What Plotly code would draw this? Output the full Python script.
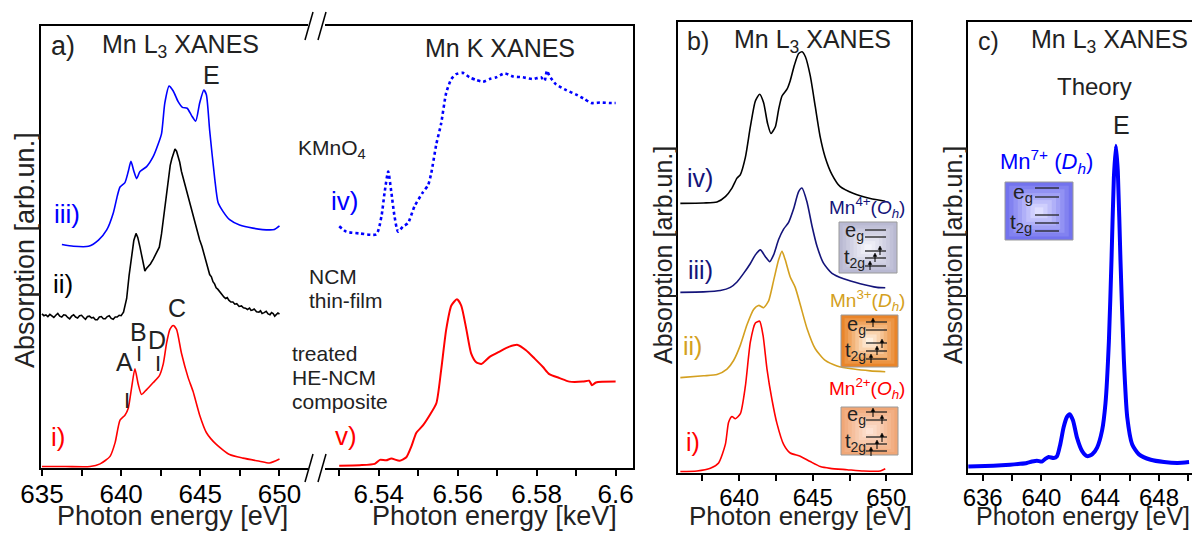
import plotly.graph_objects as go

W, H = 1192, 535

# ---------------- data ----------------
# (a) Mn L3 XANES  [eV]
a_E_iii = [636.26, 636.99, 637.94, 638.57, 639.09, 639.51, 639.76, 639.93, 640.24, 640.45, 640.62, 640.81,
           640.98, 641.19, 641.61, 642.03, 642.34, 642.55, 642.76, 643.03, 643.29, 643.60, 643.87, 644.17,
           644.44, 644.71, 644.96, 645.22, 645.38, 645.59, 645.91, 646.12, 646.43, 646.85, 647.48, 648.32,
           649.37, 649.68, 650.00]
a_I_iii = [5.06, 5.02, 5.02, 5.16, 5.39, 5.78, 6.16, 6.36, 6.46, 6.71, 6.94, 6.71,
           6.55, 6.71, 6.82, 7.05, 7.33, 7.56, 8.26, 8.64, 8.53, 8.29, 8.16, 8.14,
           7.98, 7.85, 8.26, 8.55, 8.45, 7.64, 6.55, 6.01, 5.81, 5.62, 5.50, 5.43,
           5.39, 5.40, 5.48]

a_E_ii = [635.0, 635.125, 635.25, 635.375, 635.5, 635.625, 635.75, 635.875, 636.0, 636.125, 636.25, 636.375,
          636.5, 636.625, 636.75, 636.875, 637.0, 637.125, 637.25, 637.375, 637.5, 637.625, 637.75, 637.875,
          638.0, 638.125, 638.25, 638.375, 638.5, 638.625, 638.75, 638.875, 639.0, 639.125, 639.25, 639.375,
          639.5, 639.625, 639.75, 639.875, 640.0, 640.15, 640.35, 640.5,
          640.66, 640.8, 640.94, 641.05, 641.19, 641.35, 641.5, 641.6, 641.71, 641.85, 642.03, 642.2,
          642.41, 642.55, 642.66, 642.8, 642.97, 643.1, 643.2, 643.29, 643.4, 643.5, 643.6, 643.7,
          643.81, 644.0, 644.15, 644.34, 644.5, 644.7, 644.96, 645.1, 645.2, 645.4, 645.59, 645.7, 645.8,
          645.9, 646.0, 646.1, 646.22, 646.3, 646.4, 646.5, 646.6, 646.7, 646.8, 646.93, 647.06, 647.18,
          647.3, 647.45, 647.6, 647.72, 647.85, 647.98, 648.11, 648.2, 648.3, 648.4, 648.55, 648.7, 648.8,
          648.9, 649.03, 649.16, 649.28, 649.4, 649.5, 649.6, 649.7, 649.8, 649.9, 650.0]
a_I_ii = [3.49, 3.45, 3.47, 3.43, 3.48, 3.44, 3.41, 3.46, 3.50, 3.44, 3.42, 3.47,
          3.46, 3.41, 3.38, 3.44, 3.47, 3.42, 3.40, 3.45, 3.46, 3.41, 3.37, 3.43,
          3.44, 3.40, 3.41, 3.36, 3.36, 3.42, 3.43, 3.38, 3.38, 3.43, 3.45, 3.39,
          3.37, 3.42, 3.42, 3.46, 3.45, 3.53, 3.84, 4.35,
          4.84, 5.15, 5.31, 5.22, 5.00, 4.70, 4.46, 4.52, 4.57, 4.62, 4.73, 4.85,
          5.00, 5.30, 5.62, 6.05, 6.55, 6.85, 7.00, 7.09, 7.22, 7.17, 7.05, 6.92,
          6.71, 6.45, 6.30, 6.01, 5.82, 5.50, 5.16, 5.02, 4.88, 4.62, 4.38, 4.33, 4.22,
          4.17, 4.08, 4.05, 3.99, 3.97, 3.92, 3.87, 3.84, 3.86, 3.80, 3.76, 3.76, 3.71,
          3.72, 3.66, 3.67, 3.63, 3.62, 3.59, 3.62, 3.57, 3.58, 3.60, 3.54, 3.53, 3.56,
          3.50, 3.52, 3.55, 3.49, 3.47, 3.52, 3.50, 3.44, 3.48, 3.51, 3.49]

a_E_i = [635.00, 636.50, 638.04, 638.67, 639.30, 639.62, 639.93, 640.24, 640.45, 640.66, 640.87, 641.08,
         641.29, 641.61, 642.03, 642.41, 642.66, 642.87, 643.08, 643.29, 643.50, 643.81, 644.23, 644.54,
         644.96, 645.38, 646.01, 646.85, 647.69, 648.74, 649.37, 650.00]
a_I_i = [0.04, 0.04, 0.04, 0.10, 0.27, 0.58, 1.09, 1.20, 1.36, 1.82, 2.25, 1.90,
         1.67, 1.78, 1.94, 2.09, 2.36, 2.83, 3.14, 3.23, 3.14, 2.60, 2.05, 1.74,
         1.20, 0.81, 0.54, 0.31, 0.23, 0.16, 0.12, 0.21]

# (a) Mn K XANES  [keV]
k_E_iv = [6.5300, 6.5318, 6.5352, 6.5394, 6.5407, 6.5415, 6.5424, 6.5432, 6.5440, 6.5449, 6.5462, 6.5474,
          6.5491, 6.5512, 6.5525, 6.5533, 6.5546, 6.5558, 6.5571, 6.5584, 6.5596, 6.5613, 6.5630, 6.5647,
          6.5664, 6.5681, 6.5698, 6.5719, 6.5740, 6.5765, 6.5790, 6.5811, 6.5820, 6.5826, 6.5832, 6.5849,
          6.5875, 6.5900, 6.5921, 6.5938, 6.5963, 6.5984, 6.6000]
k_I_iv = [5.47, 5.35, 5.31, 5.29, 5.70, 6.24, 6.71, 6.24, 5.70, 5.35, 5.47, 5.54,
          5.93, 6.24, 6.40, 6.67, 7.33, 7.79, 8.49, 8.80, 8.91, 8.94, 8.84, 8.78,
          8.74, 8.80, 8.84, 8.93, 8.86, 8.84, 8.80, 8.84, 8.76, 8.99, 8.88, 8.68,
          8.55, 8.45, 8.35, 8.26, 8.27, 8.26, 8.26]

k_E_v = [6.5300, 6.5352, 6.5390, 6.5403, 6.5419, 6.5432, 6.5453, 6.5470, 6.5483, 6.5495, 6.5512, 6.5529,
         6.5546, 6.5558, 6.5571, 6.5584, 6.5598, 6.5609, 6.5622, 6.5634, 6.5647, 6.5660, 6.5681, 6.5706,
         6.5731, 6.5752, 6.5773, 6.5795, 6.5816, 6.5832, 6.5858, 6.5883, 6.5917, 6.5933, 6.5940, 6.5950,
         6.6000]
k_I_v = [0.06, 0.07, 0.10, 0.19, 0.18, 0.22, 0.17, 0.25, 0.50, 0.80, 0.97, 1.20,
         1.47, 2.21, 3.14, 3.68, 3.82, 3.68, 3.14, 2.60, 2.40, 2.36, 2.52, 2.64,
         2.75, 2.79, 2.67, 2.48, 2.29, 2.13, 2.04, 1.96, 1.96, 1.98, 1.88, 1.94,
         1.96]

# (b) Mn L3 XANES references  [eV]
b_E_iv = [636.00, 637.58, 638.49, 639.06, 639.51, 639.85, 640.08, 640.42, 640.76, 641.10, 641.39, 641.66,
          641.93, 642.16, 642.46, 642.68, 642.91, 643.25, 643.47, 643.75, 644.04, 644.27, 644.50, 644.83,
          645.17, 645.51, 645.85, 646.31, 646.87, 647.78, 648.91, 649.93]
b_I_iv = [5.98, 5.99, 6.01, 6.13, 6.32, 6.54, 6.62, 7.00, 7.68, 8.25, 8.40, 8.21,
          7.75, 7.53, 7.68, 8.06, 8.36, 8.51, 8.70, 9.04, 9.30, 9.34, 9.23, 8.81,
          8.13, 7.45, 7.00, 6.62, 6.35, 6.20, 6.09, 6.03]

b_E_iii = [636.00, 637.58, 638.72, 639.40, 639.85, 640.30, 640.76, 641.10, 641.44, 641.78, 642.07, 642.34,
           642.68, 643.02, 643.36, 643.70, 644.04, 644.27, 644.61, 644.95, 645.29, 645.74, 646.31, 647.10,
           648.23, 649.37, 649.93]
b_I_iii = [4.01, 4.02, 4.05, 4.12, 4.24, 4.43, 4.65, 4.84, 4.95, 4.80, 4.69, 4.84,
           5.18, 5.41, 5.56, 5.86, 6.24, 6.32, 6.01, 5.48, 5.03, 4.65, 4.43, 4.31,
           4.20, 4.12, 4.11]

b_E_ii = [636.00, 637.58, 638.49, 639.17, 639.62, 640.08, 640.53, 640.98, 641.32, 641.66, 642.00, 642.34,
          642.68, 642.91, 643.13, 643.47, 643.81, 644.15, 644.61, 645.17, 645.85, 646.65, 647.78, 648.91,
          649.93]
b_I_ii = [2.12, 2.16, 2.19, 2.31, 2.50, 2.84, 3.29, 3.63, 3.72, 3.67, 3.82, 4.27,
          4.73, 4.92, 4.73, 4.35, 4.12, 3.74, 3.21, 2.76, 2.50, 2.38, 2.31, 2.27,
          2.25]

b_E_i = [636.00, 637.13, 638.04, 638.60, 639.06, 639.28, 639.51, 639.74, 640.08, 640.42, 640.76, 641.10,
         641.39, 641.62, 641.89, 642.23, 642.57, 643.02, 643.47, 644.15, 644.83, 645.51, 646.19, 647.33,
         648.46, 649.59, 649.93]
b_I_i = [0.04, 0.05, 0.11, 0.23, 0.64, 1.13, 1.26, 1.21, 1.32, 1.93, 2.91, 3.33,
         3.37, 3.06, 2.31, 1.63, 1.10, 0.64, 0.45, 0.38, 0.26, 0.15, 0.11, 0.08,
         0.05, 0.05, 0.10]

# (c) Mn L3 XANES theory  [eV]
c_E = [635.02, 636.73, 637.87, 638.55, 639.01, 639.35, 639.69, 640.03, 640.26, 640.49, 640.83, 641.06,
       641.28, 641.51, 641.74, 641.92, 642.15, 642.42, 642.77, 643.11, 643.45, 643.79, 644.13, 644.36,
       644.59, 644.77, 644.93, 645.07, 645.20, 645.38, 645.61, 645.84, 646.18, 646.64, 647.44, 648.35,
       649.26, 650.05]
c_I = [0.15, 0.17, 0.19, 0.21, 0.23, 0.26, 0.28, 0.26, 0.32, 0.36, 0.34, 0.38,
       0.64, 1.02, 1.25, 1.31, 1.17, 0.79, 0.49, 0.38, 0.42, 0.57, 0.95, 1.55,
       2.91, 4.73, 6.54, 7.26, 6.69, 4.73, 2.53, 1.25, 0.64, 0.42, 0.30, 0.25,
       0.23, 0.25]

# tick values / labels
a_ticks = [635, 640, 645, 650]
a_minor = [637.5, 642.5, 647.5]
k_ticks = [6.54, 6.56, 6.58, 6.60]
k_ticktext = ["6.54", "6.56", "6.58", "6.6"]
k_minor = [6.53, 6.55, 6.57, 6.59]
b_ticks = [640, 645, 650]
b_minor = [637.5, 642.5, 647.5]
c_ticks = [636, 640, 644, 648]
c_minor = [638, 642, 646, 650]

# ---------------- styling ----------------
FONT = "Liberation Sans, Arial, sans-serif"
TXT = "#222222"
BLUE = "#0000ff"
RED = "#ff0000"
NAVY = "#14147a"
GOLD = "#d4a020"


def X(p):
    return p / W


def Y(p):
    return 1 - p / H


fig = go.Figure()


def line(x, y, color, xa, ya, width=1.6, dash="solid", shape="spline"):
    fig.add_trace(go.Scatter(
        x=x, y=y, mode="lines", xaxis=xa, yaxis=ya, showlegend=False, hoverinfo="skip",
        line=dict(color=color, width=width, dash=dash, shape=shape,
                  smoothing=0.6 if shape == "spline" else None)))


line(a_E_iii, a_I_iii, BLUE, "x", "y")
line(a_E_ii, a_I_ii, "black", "x", "y", width=1.6, shape="linear")
line(a_E_i, a_I_i, RED, "x", "y")
line(k_E_iv, k_I_iv, BLUE, "x2", "y2", width=2.6, dash="dot")
line(k_E_v, k_I_v, RED, "x2", "y2", width=2.0)
line(b_E_iv, b_I_iv, "black", "x3", "y3")
line(b_E_iii, b_I_iii, NAVY, "x3", "y3")
line(b_E_ii, b_I_ii, GOLD, "x3", "y3")
line(b_E_i, b_I_i, RED, "x3", "y3")
line(c_E, c_I, BLUE, "x4", "y4", width=4.0)


def xax(domain, rng, anchor, tickvals, minor, ticktext=None, size=25, mirror=True):
    d = dict(domain=domain, range=rng, anchor=anchor, showline=True, linecolor="black", linewidth=1.5,
             mirror=mirror, ticks="outside", ticklen=6, tickwidth=1.5, tickcolor="black",
             tickvals=tickvals, showgrid=False, zeroline=False, ticklabelstandoff=-4,
             automargin=False,
             tickfont=dict(family=FONT, size=size, color="black"),
             minor=dict(tickvals=minor, ticks="outside", ticklen=6, tickwidth=1.5,
                        tickcolor="black", showgrid=False))
    if ticktext is not None:
        d["ticktext"] = ticktext
    return d


def yax(domain, anchor, mirror=False, side="left"):
    return dict(domain=domain, range=[0, 10], anchor=anchor, showline=True, linecolor="black",
                linewidth=1.5, mirror=mirror, side=side, ticks="", showticklabels=False,
                showgrid=False, zeroline=False, automargin=False)


ya_dom = [Y(468.3), Y(26)]
yb_dom = [Y(473.3), Y(22)]

fig.update_layout(
    width=W, height=H, margin=dict(l=0, r=0, t=0, b=0, pad=0, autoexpand=False),
    paper_bgcolor="white", plot_bgcolor="white",
    font=dict(family=FONT, color=TXT),
    xaxis=xax([X(41), X(308)], [634.94, 651.8], "y", a_ticks, a_minor, size=26),
    yaxis=yax(ya_dom, "x"),
    xaxis2=xax([X(325), X(633)], [6.5264, 6.6044], "y2", k_ticks, k_minor, k_ticktext, size=26),
    yaxis2=yax(ya_dom, "x2", side="right"),
    xaxis3=xax([X(678), X(911)], [635.84, 651.68], "y3", b_ticks, b_minor, size=24),
    yaxis3=yax(yb_dom, "x3", mirror=True),
    xaxis4=xax([X(967.7), 1.0], [634.98, 650.25], "y4", c_ticks, c_minor, size=24),
    yaxis4=yax(yb_dom, "x4"),
)

ann = []


def txt(x, y, s, size=25, color=TXT, xanchor="center", angle=0):
    ann.append(dict(x=X(x), y=Y(y), xref="paper", yref="paper", text=s, showarrow=False,
                    xanchor=xanchor, yanchor="middle", textangle=angle,
                    font=dict(family=FONT, size=size, color=color)))


# panel a
txt(63, 46, "a)", 27)
txt(180, 46, "Mn L<sub>3</sub> XANES", 25)
txt(211, 75, "E", 25)
txt(177, 308, "C", 25)
txt(138, 332, "B", 25)
txt(157, 340, "D", 25)
txt(124, 362, "A", 25)
txt(139, 353, "I", 22)
txt(157.5, 363, "I", 22)
txt(127, 400, "I", 22)
txt(67, 214, "iii)", 26, BLUE)
txt(63, 284, "ii)", 26, "black")
txt(58, 437, "i)", 26, RED)
txt(296, 149, "KMnO<sub>4</sub>", 21, xanchor="left")
txt(307, 276, "NCM", 21, xanchor="left")
txt(307, 300, "thin-film", 21, xanchor="left")
txt(290, 353, "treated", 21, xanchor="left")
txt(290, 377, "HE-NCM", 21, xanchor="left")
txt(290, 401, "composite", 21, xanchor="left")
txt(344, 201, "iv)", 26, BLUE)
txt(346, 436, "v)", 26, RED)
txt(500, 48, "Mn K XANES", 25)
txt(172, 516, "Photon energy [eV]", 27)
txt(494, 516, "Photon energy [keV]", 27)
txt(25, 250, "Absorption [arb.un.]", 27, angle=-90)

# panel b
txt(698, 41, "b)", 25)
txt(812, 41, "Mn L<sub>3</sub> XANES", 25)
txt(700, 178, "iv)", 25, NAVY)
txt(700, 270, "iii)", 25, NAVY)
txt(692, 346, "ii)", 25, GOLD)
txt(693, 442, "i)", 25, RED)
txt(907, 207, "Mn<sup>4+</sup>(<i>O<sub>h</sub></i>)", 19, NAVY, xanchor="right")
txt(907, 300, "Mn<sup>3+</sup>(<i>D<sub>h</sub></i>)", 19, GOLD, xanchor="right")
txt(907, 388, "Mn<sup>2+</sup>(<i>O<sub>h</sub></i>)", 19, RED, xanchor="right")
txt(800, 516, "Photon energy [eV]", 26)
txt(663, 255, "Absorption [arb.un.]", 25, angle=-90)

# panel c
txt(988, 41, "c)", 25)
txt(1109, 41, "Mn L<sub>3</sub> XANES", 25)
txt(1094, 86, "Theory", 24)
txt(1121, 125, "E", 25)
txt(1046, 161, "Mn<sup>7+</sup> (<i>D<sub>h</sub></i>)", 22, BLUE)
txt(1083, 516, "Photon energy [eV]", 25)
txt(953, 255, "Absorption [arb.un.]", 25, angle=-90)

shapes = []


def hexmix(c1, c2, t):
    a = [int(c1[i:i + 2], 16) for i in (1, 3, 5)]
    b = [int(c2[i:i + 2], 16) for i in (1, 3, 5)]
    return "#" + "".join("%02x" % round(a[k] + (b[k] - a[k]) * t) for k in range(3))


def gbox(x0, y0, x1, y1, edge, center, n=8):
    cx, cy = (x0 + x1) / 2, (y0 + y1) / 2
    for k in range(n):
        f = 1 - k / n
        t = k / (n - 1)
        hw, hh = (x1 - x0) / 2 * f, (y1 - y0) / 2 * f
        shapes.append(dict(type="rect", xref="paper", yref="paper", layer="above",
                           x0=X(cx - hw), x1=X(cx + hw), y0=Y(cy + hh), y1=Y(cy - hh),
                           fillcolor=hexmix(edge, center, t), line=dict(width=0)))
    shapes.append(dict(type="rect", xref="paper", yref="paper", layer="above",
                       x0=X(x0), x1=X(x1), y0=Y(y1), y1=Y(y0),
                       fillcolor="rgba(0,0,0,0)", line=dict(color="#9a9a9a", width=1)))


def hl(x0, x1, y, w=1.3):
    shapes.append(dict(type="line", xref="paper", yref="paper", layer="above",
                       x0=X(x0), x1=X(x1), y0=Y(y), y1=Y(y), line=dict(color="#222", width=w)))


def seg(x0, y0, x1, y1):
    shapes.append(dict(type="line", xref="paper", yref="paper", layer="above",
                       x0=X(x0), x1=X(x1), y0=Y(y0), y1=Y(y1), line=dict(color="black", width=1.5)))


def arrow(x, y, length=9):
    shapes.append(dict(type="line", xref="paper", yref="paper", layer="above",
                       x0=X(x), x1=X(x), y0=Y(y + length), y1=Y(y + 2),
                       line=dict(color="black", width=1)))
    shapes.append(dict(type="path", xref="paper", yref="paper", layer="above",
                       path="M %f,%f L %f,%f L %f,%f Z" % (X(x - 1.8), Y(y + 3.5), X(x), Y(y),
                                                          X(x + 1.8), Y(y + 3.5)),
                       fillcolor="black", line=dict(color="black", width=0.5)))


# axis breaks in panel a
seg(305, 40, 313, 12)
seg(318, 40, 326, 12)
seg(305, 482, 313, 454)
seg(318, 482, 326, 454)

# inset: Mn4+ (Oh)
gbox(839, 222, 897, 273, "#b9b9d2", "#f4f4fb")
hl(865, 886, 230)
hl(865, 886, 237)
hl(865, 886, 251)
hl(865, 886, 258)
hl(865, 886, 266)
arrow(880, 246)
arrow(875, 253)
arrow(870, 261)
txt(843, 231, "e<sub>g</sub>", 20, xanchor="left")
txt(842, 258, "t<sub>2g</sub>", 20, xanchor="left")

# inset: Mn3+ (Dh)
gbox(841, 315, 898, 367, "#e9852a", "#fff2e2")
hl(866, 887, 322)
hl(866, 887, 330)
hl(866, 887, 343)
hl(866, 887, 351)
hl(866, 887, 359)
arrow(873, 318)
arrow(882, 339)
arrow(877, 346)
arrow(871, 354)
txt(845, 325, "e<sub>g</sub>", 20, xanchor="left")
txt(843, 351, "t<sub>2g</sub>", 20, xanchor="left")

# inset: Mn2+ (Oh)
gbox(841, 407, 898, 455, "#f0a777", "#fde2d3")
hl(866, 887, 412)
hl(866, 887, 420)
hl(866, 887, 437)
hl(866, 887, 444)
hl(866, 887, 451)
arrow(873, 408)
arrow(882, 415)
arrow(882, 433)
arrow(877, 440)
arrow(871, 447)
txt(845, 415, "e<sub>g</sub>", 20, xanchor="left")
txt(843, 442, "t<sub>2g</sub>", 20, xanchor="left")

# inset: Mn7+ (Dh)
gbox(1005, 182, 1073, 240, "#7373ee", "#dedeff")
hl(1035, 1059, 188)
hl(1035, 1059, 197)
hl(1035, 1059, 215)
hl(1035, 1059, 223)
hl(1035, 1059, 231)
txt(1011, 193, "e<sub>g</sub>", 21, xanchor="left")
txt(1008, 223, "t<sub>2g</sub>", 21, xanchor="left")

fig.update_layout(annotations=ann, shapes=shapes)
fig.write_html("out.html", config={"displayModeBar": False},
               post_script="document.body.style.margin='0px';document.body.style.overflow='hidden';")
